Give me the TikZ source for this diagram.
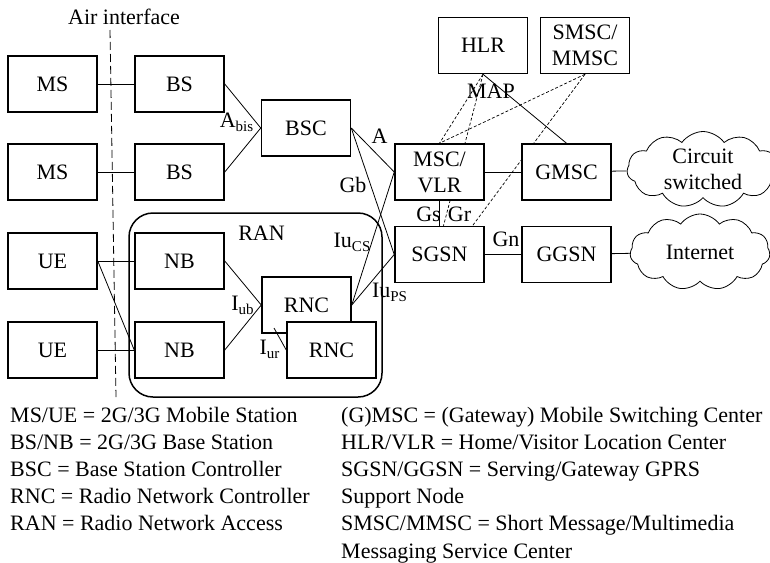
\documentclass[tikz,border=0pt]{standalone}
\usepackage{fontspec}
\setmainfont{Liberation Serif}
\usetikzlibrary{shapes.symbols,backgrounds}

% lowered, smaller index text (A_bis, Iu_CS, ...)
\newcommand\lowsub[1]{\raisebox{-4pt}{\fontsize{15}{15}\selectfont #1}}

\begin{document}
\begin{tikzpicture}[x=1pt,y=-1pt,
  every node/.style={font=\fontsize{22}{26}\selectfont},
  unit/.style={draw, line width=1.5pt, fill=white, minimum width=89pt,
    minimum height=56pt, inner sep=0pt, align=center},
  link/.style={line width=0.8pt},
  sig/.style={line width=0.7pt, dash pattern=on 3pt off 2pt},
  airline/.style={line width=0.8pt, dash pattern=on 8pt off 4pt},
  net/.style={draw, cloud, cloud puffs=11, cloud puff arc=110, aspect=1.8,
    line width=0.8pt, minimum width=140pt, minimum height=76pt,
    inner sep=0pt, align=center},
  lbl/.style={anchor=base, inner sep=0pt},
  legend/.style={anchor=base west, inner sep=0pt}]
\useasboundingbox (0,0) rectangle (770,562);

% network elements
\node[unit] (ms1)  at (52.5,84)    {MS};
\node[unit] (bs1)  at (179.5,84)   {BS};
\node[unit] (ms2)  at (52.5,172)   {MS};
\node[unit] (bs2)  at (179.5,172)  {BS};
\node[unit] (bsc)  at (306,128)    {BSC};
\node[unit] (hlr)  at (483,45.5)   {HLR};
\node[unit] (smsc) at (585,45.5)   {SMSC/\\MMSC};
\node[unit] (msc)  at (439.5,172)  {MSC/\\VLR};
\node[unit] (gmsc) at (566.5,172)  {GMSC};
\node[unit] (sgsn) at (439.5,254.5) {SGSN};
\node[unit] (ggsn) at (566.5,254.5) {GGSN};
\node[unit] (ue1)  at (52.5,261)   {UE};
\node[unit] (ue2)  at (52.5,350)   {UE};
\node[unit] (nb1)  at (179.5,261)  {NB};
\node[unit] (nb2)  at (179.5,350)  {NB};
\node[unit] (rnc1) at (306.5,305)  {RNC};
\node[unit] (rnc2) at (331.5,350)  {RNC};

% external networks
\node[net, minimum width=152pt] (cs) at (703,169.5) {Circuit\\switched};
\node[net] (inet) at (700,252)   {Internet};

% radio access network frame
\node[draw, line width=1.5pt, rounded corners=24pt, minimum width=253pt,
  minimum height=184pt, inner sep=0pt] (ran) at (255.5,305) {};
\node[lbl] at (261.5,240) {RAN};

% air interface marker
\coordinate (airtop) at (110,30);
\coordinate (airbot) at (116,397);
\node[lbl] (air) at (124,24) {Air interface};

\begin{pgfonlayer}{background}
  \fill[white] (0,0) rectangle (770,562);
  \draw[airline] (airtop) -- (airbot);
  % radio links
  \draw[link] (ms1) -- (bs1);
  \draw[link] (ms2) -- (bs2);
  \draw[link] (ue1.east) -- (nb1.west);
  \draw[link] (ue1.east) -- (nb2.west);
  \draw[link] (ue2.east) -- (nb2.west);
  % access side
  \draw[link] (bs1.east) -- (bsc.west);
  \draw[link] (bs2.east) -- (bsc.west);
  \draw[link] (nb1.east) -- (rnc1.west);
  \draw[link] (nb2.east) -- (rnc1.west);
  \draw[link] (bsc.east) -- (msc.west);
  \draw[link] (bsc.east) -- (sgsn.west);
  \draw[link] (rnc1.east) -- (msc.west);
  \draw[link] (rnc1.east) -- (sgsn.west);
  % core
  \draw[link] (msc) -- (gmsc);
  \draw[link] (sgsn) -- (ggsn);
  \draw[link] (gmsc) -- (cs);
  \draw[link] (ggsn) -- (inet);
  \draw[link] (msc.south) -- (sgsn.north);
  \draw[link] (hlr.south) -- (gmsc.north);
  % signalling
  \draw[sig] (hlr.south) -- (msc.north);
  \draw[sig] (smsc.south) -- (msc.north);
  \draw[sig] (hlr.south) -- ([xshift=4pt]sgsn.north);
  \draw[sig] (smsc.south) -- ([xshift=33pt]sgsn.north);
\end{pgfonlayer}

% Iur between the two RNCs
\coordinate (iur) at (274,328);
\draw[link] (iur) -- (rnc2.west);

% interface labels
\node[lbl] at (236.5,127) {A\lowsub{bis}};
\node[lbl] at (379.5,143) {A};
\node[lbl] at (353,192)   {Gb};
\node[lbl] at (352,247)   {Iu\lowsub{CS}};
\node[lbl] at (389.5,297) {Iu\lowsub{PS}};
\node[lbl] at (242.5,310) {I\lowsub{ub}};
\node[lbl] at (269.5,354) {I\lowsub{ur}};
\node[lbl] at (428.5,221) {Gs};
\node[lbl] at (459.5,221) {Gr};
\node[lbl] at (506,246)   {Gn};
\node[lbl] at (491,98)    {MAP};

% legend
\node[legend] at (10,422)    {MS/UE = 2G/3G Mobile Station};
\node[legend] at (10,449.2)  {BS/NB = 2G/3G Base Station};
\node[legend] at (10,476.4)  {BSC = Base Station Controller};
\node[legend] at (10,503.6)  {RNC = Radio Network Controller};
\node[legend] at (10,530.8)  {RAN = Radio Network Access};
\node[legend] at (341,422)   {(G)MSC = (Gateway) Mobile Switching Center};
\node[legend] at (341,449.2) {HLR/VLR = Home/Visitor Location Center};
\node[legend] at (341,476.4) {SGSN/GGSN = Serving/Gateway GPRS};
\node[legend] at (341,503.6) {Support Node};
\node[legend] at (341,530.8) {SMSC/MMSC = Short Message/Multimedia};
\node[legend] at (341,558)   {Messaging Service Center};
\end{tikzpicture}
\end{document}
